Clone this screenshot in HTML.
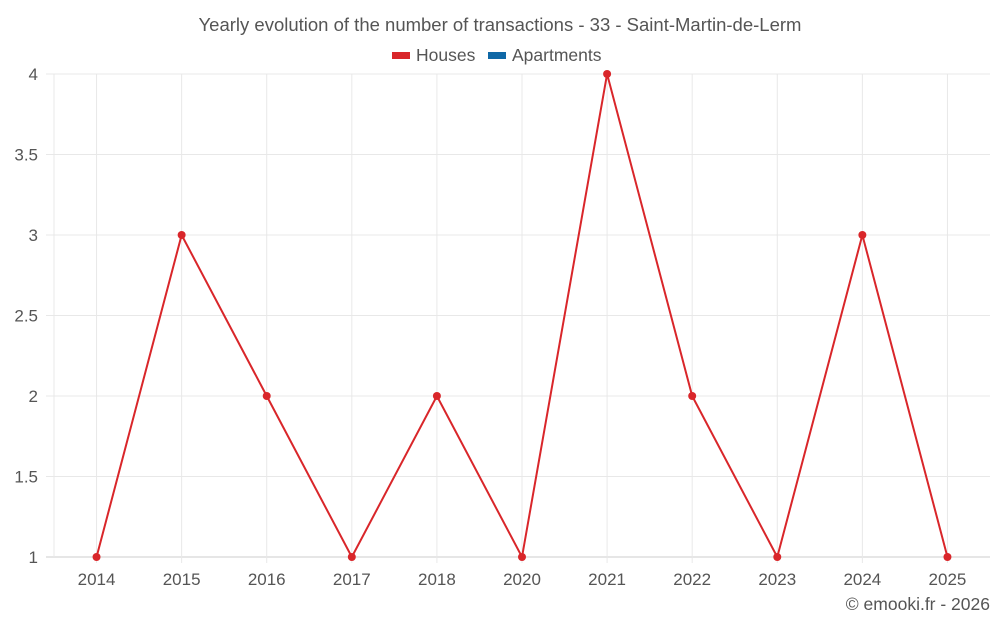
<!DOCTYPE html>
<html><head><meta charset="utf-8"><style>
body{margin:0;background:#fff;font-family:"Liberation Sans",sans-serif;}
svg text{font-family:"Liberation Sans",sans-serif;}
</style></head><body>
<svg id="chart" width="1000" height="625">
<text x="500" y="31" text-anchor="middle" font-size="18.5" fill="#555">Yearly evolution of the number of transactions - 33 - Saint-Martin-de-Lerm</text>
<g>
<g><rect x="392" y="52" width="18" height="7" fill="#d9262a"/><text x="416" y="61" font-size="17.5" fill="#555">Houses</text></g>
<g><rect x="488" y="52" width="18" height="7" fill="#0f68a6"/><text x="512" y="61" font-size="17.5" fill="#555">Apartments</text></g>
</g>
<g id="grid"></g><g id="axes"></g><g id="series"></g>
<text x="990" y="610" text-anchor="end" font-size="17.5" fill="#555">© emooki.fr - 2026</text>
</svg>
<script>
const years=["2014","2015","2016","2017","2018","2020","2021","2022","2023","2024","2025"];
const houses=[1,3,2,1,2,1,4,2,1,3,1];
const yTicks=[1,1.5,2,2.5,3,3.5,4];
const NS="http://www.w3.org/2000/svg";
const L=54,R=990,T=74,B=557,yMin=1,yMax=4;
const band=(R-L)/years.length;
function x(i){return L+band*(i+0.5);}
function y(v){return B-(v-yMin)/(yMax-yMin)*(B-T);}
function mk(p,tag,a){const e=document.createElementNS(NS,tag);for(const k in a)e.setAttribute(k,a[k]);p.appendChild(e);return e;}
const g=document.getElementById('grid'),ax=document.getElementById('axes'),s=document.getElementById('series');
yTicks.forEach(v=>{
 const l=mk(g,'line',{x1:46,x2:R,y1:y(v),y2:y(v),stroke:v===yMin?'#ccc':'#e8e8e8'});
 
 
 const t=mk(ax,'text',{x:38,y:y(v)+6,'text-anchor':'end','font-size':17,fill:'#555'});
 t.textContent=String(v);
 
 
});
const l0=mk(g,'line',{x1:L,x2:L,y1:T,y2:B,stroke:'#e8e8e8'});


years.forEach((yr,i)=>{
 const l=mk(g,'line',{x1:x(i),x2:x(i),y1:T,y2:B+6,stroke:'#e8e8e8'});
 
 
 const t=mk(ax,'text',{x:x(i),y:585,'text-anchor':'middle','font-size':17,fill:'#555'});
 t.textContent=yr;
 
 
});
const pl=mk(s,'polyline',{points:houses.map((v,i)=>x(i)+','+y(v)).join(' '),fill:'none',stroke:'#d9262a','stroke-width':2});


houses.forEach((v,i)=>{
 const c=mk(s,'circle',{cx:x(i),cy:y(v),r:4,fill:'#d9262a'});
 
 
});
</script>
</body></html>
